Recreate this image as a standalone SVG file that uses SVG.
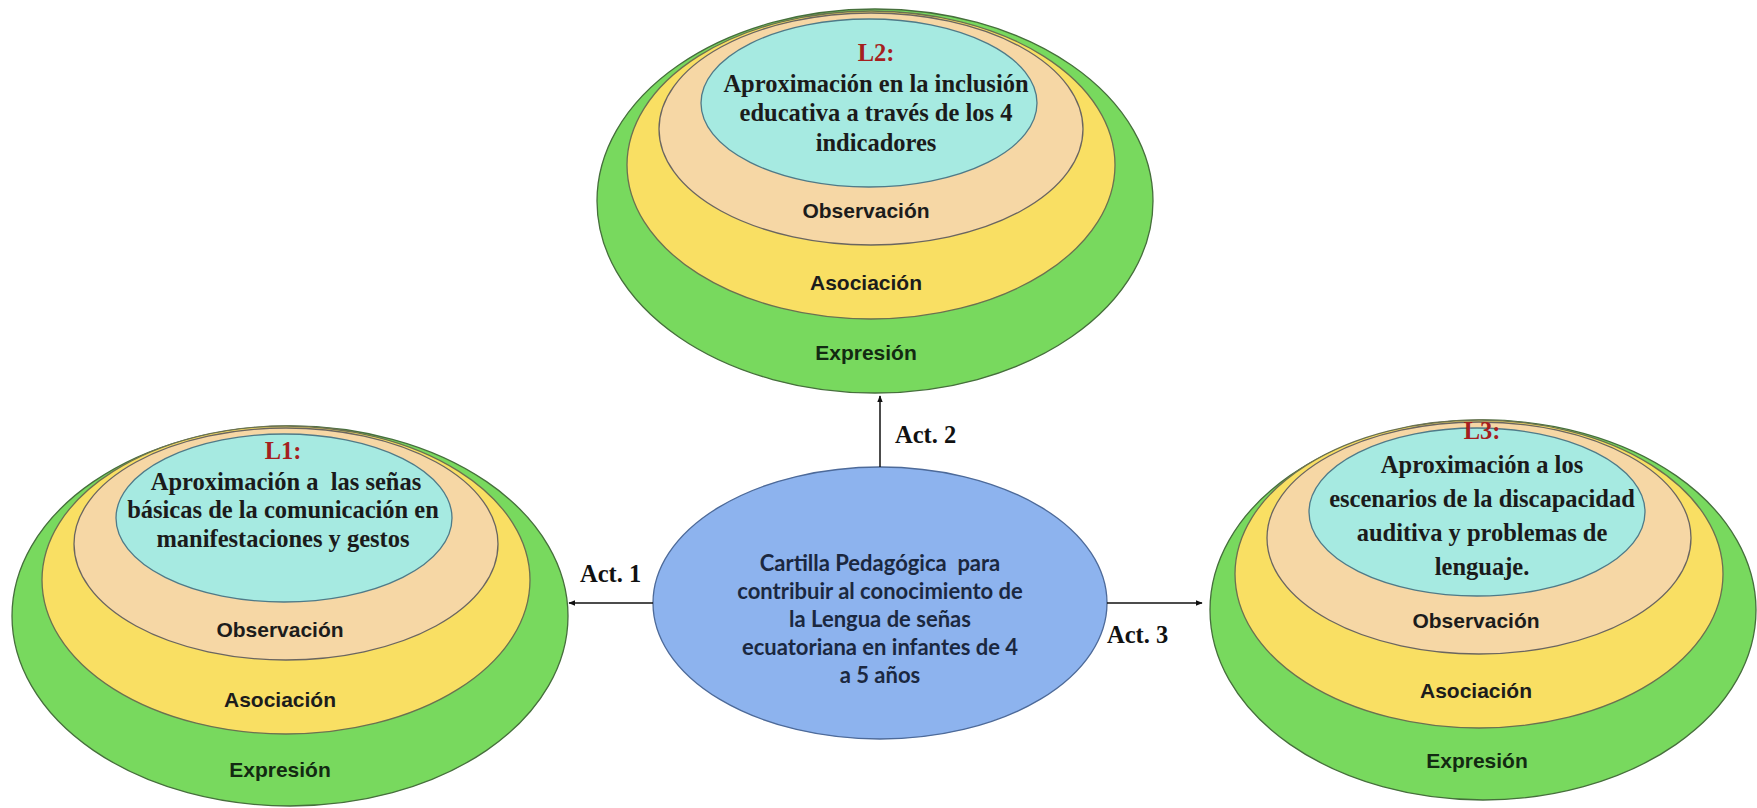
<svg xmlns="http://www.w3.org/2000/svg" width="1757" height="808" viewBox="0 0 1757 808">
  <defs>
    <marker id="arr" viewBox="0 0 10 10" refX="9" refY="5" markerWidth="7" markerHeight="7" markerUnits="userSpaceOnUse" orient="auto">
      <path d="M0,1 L10,5 L0,9 z" fill="#111"/>
    </marker>
  </defs>
  <style>
    .g{fill:#78d95e;stroke:#466f3c;stroke-width:1.3}
    .y{fill:#f9df63;stroke:#6b7150;stroke-width:1.3}
    .o{fill:#f6d7a5;stroke:#6a6560;stroke-width:1.3}
    .c{fill:#a6eae1;stroke:#4f7a88;stroke-width:1.3}
    .b{fill:#8db3ee;stroke:#4d6a99;stroke-width:1.3}
    .t{font-family:"Liberation Serif","Times New Roman",serif;font-weight:bold;font-size:24.5px;fill:#1b1b1b;text-anchor:middle}
    .lab{fill:#a51f1f}
    .s{font-family:"Liberation Sans",Arial,sans-serif;font-weight:bold;font-size:21px;fill:#1c1c1c;text-anchor:middle}
    .ex{fill:#132a12}
    .m{font-family:Lato,"Open Sans",sans-serif;font-weight:bold;font-size:22px;fill:#1b2840;text-anchor:middle}
    .a{font-family:"Liberation Serif","Times New Roman",serif;font-weight:bold;font-size:24.5px;fill:#111}
    .ln{stroke:#111;stroke-width:1.5;fill:none}
  </style>
  <rect width="1757" height="808" fill="#ffffff"/>

  <g id="L2">
    <ellipse class="g" cx="875" cy="201" rx="278" ry="192"/>
    <ellipse class="y" cx="871" cy="165" rx="244" ry="154"/>
    <ellipse class="o" cx="871" cy="129" rx="212" ry="116"/>
    <ellipse class="c" cx="869" cy="103" rx="168" ry="84"/>
    <text class="t lab" x="876" y="61">L2:</text>
    <text class="t" x="876" y="92">Aproximación en la inclusión</text>
    <text class="t" x="876" y="121">educativa a través de los 4</text>
    <text class="t" x="876" y="151">indicadores</text>
    <text class="s" x="866" y="218">Observación</text>
    <text class="s" x="866" y="290">Asociación</text>
    <text class="s ex" x="866" y="360">Expresión</text>
  </g>

  <g id="L1">
    <ellipse class="g" cx="290" cy="616" rx="278" ry="190"/>
    <ellipse class="y" cx="286" cy="580" rx="244" ry="154"/>
    <ellipse class="o" cx="286" cy="544" rx="212" ry="116"/>
    <ellipse class="c" cx="284" cy="518" rx="168" ry="84"/>
    <text class="t lab" x="283" y="459">L1:</text>
    <text class="t" x="286" y="490" xml:space="preserve">Aproximación a  las señas</text>
    <text class="t" x="283" y="518">básicas de la comunicación en</text>
    <text class="t" x="283" y="547">manifestaciones y gestos</text>
    <text class="s" x="280" y="637">Observación</text>
    <text class="s" x="280" y="707">Asociación</text>
    <text class="s ex" x="280" y="777">Expresión</text>
  </g>

  <g id="L3">
    <ellipse class="g" cx="1483" cy="610" rx="273" ry="190"/>
    <ellipse class="y" cx="1479" cy="574" rx="244" ry="154"/>
    <ellipse class="o" cx="1479" cy="538" rx="212" ry="116"/>
    <ellipse class="c" cx="1477" cy="512" rx="168" ry="84"/>
    <text class="t lab" x="1482" y="439">L3:</text>
    <text class="t" x="1482" y="473">Aproximación a los</text>
    <text class="t" x="1482" y="507">escenarios de la discapacidad</text>
    <text class="t" x="1482" y="541">auditiva y problemas de</text>
    <text class="t" x="1482" y="575">lenguaje.</text>
    <text class="s" x="1476" y="628">Observación</text>
    <text class="s" x="1476" y="698">Asociación</text>
    <text class="s ex" x="1477" y="768">Expresión</text>
  </g>

  <g id="center">
    <ellipse class="b" cx="880" cy="603" rx="227" ry="136"/>
    <text class="m" x="880" y="571" xml:space="preserve">Cartilla Pedagógica  para</text>
    <text class="m" x="880" y="599">contribuir al conocimiento de</text>
    <text class="m" x="880" y="627">la Lengua de señas</text>
    <text class="m" x="880" y="655">ecuatoriana en infantes de 4</text>
    <text class="m" x="880" y="683">a 5 años</text>
  </g>

  <g id="connectors">
    <line class="ln" x1="880" y1="467" x2="880" y2="396" marker-end="url(#arr)"/>
    <line class="ln" x1="653" y1="603" x2="569" y2="603" marker-end="url(#arr)"/>
    <line class="ln" x1="1107" y1="603" x2="1202" y2="603" marker-end="url(#arr)"/>
    <text class="a" x="895" y="443">Act. 2</text>
    <text class="a" x="580" y="582">Act. 1</text>
    <text class="a" x="1107" y="643">Act. 3</text>
  </g>
</svg>
